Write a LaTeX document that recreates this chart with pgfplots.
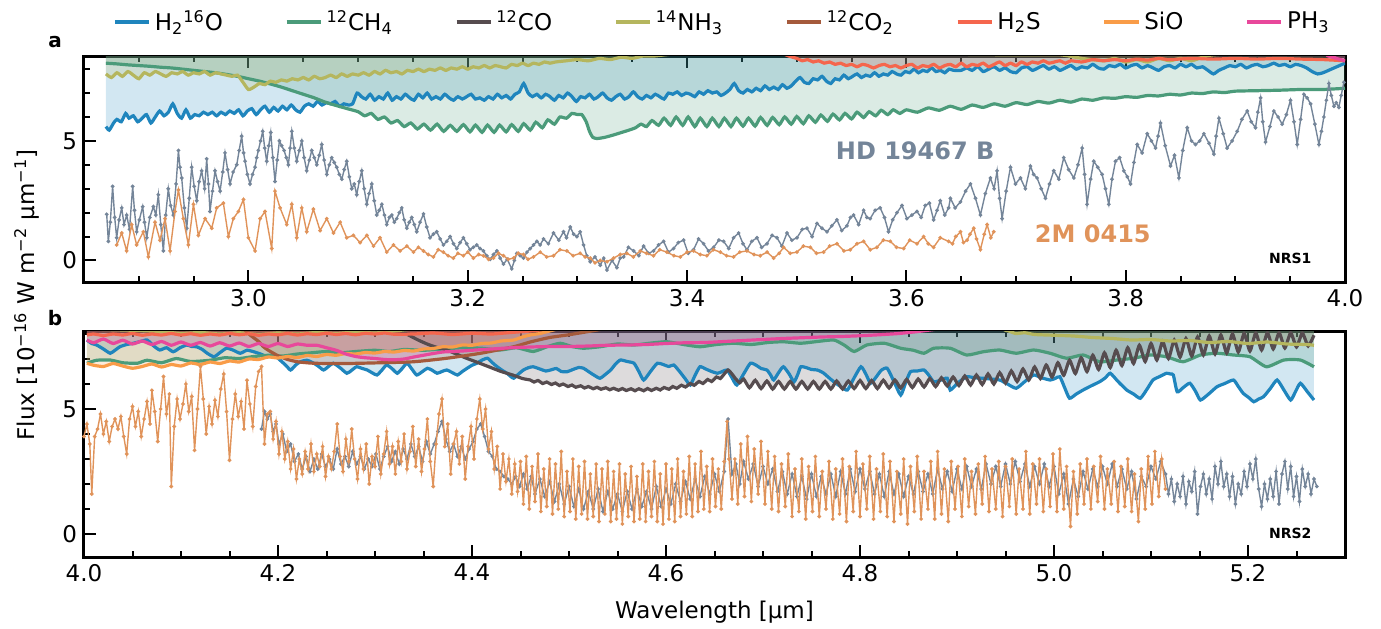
\documentclass[border=0pt]{standalone}
\usepackage{fontspec}
\setmainfont{DejaVu Sans}
\usepackage{pgfplots}
\usepackage{pgfplotstable}
\pgfplotsset{compat=1.18}
\usepgfplotslibrary{fillbetween}

\definecolor{cH2O}{HTML}{1F85BD}
\definecolor{cCH4}{HTML}{4B9B7A}
\definecolor{cCO}{HTML}{564C4F}
\definecolor{cNH3}{HTML}{B5B65E}
\definecolor{cCO2}{HTML}{A55A3C}
\definecolor{cH2S}{HTML}{F5664D}
\definecolor{cSiO}{HTML}{F99C48}
\definecolor{cPH3}{HTML}{E8489B}
\definecolor{cHD}{HTML}{748599}
\definecolor{cTM}{HTML}{E0935A}

% ---------------- panel a templates ----------------
\pgfplotstableread[row sep=\\]{x y\\
2.870 5.60\\ 2.873 5.45\\ 2.877 5.75\\ 2.880 5.90\\ 2.884 5.80\\ 2.888 6.15\\ 2.891 5.95\\ 2.895 6.05\\ 2.899 5.80\\ 2.903 5.95\\
2.907 6.10\\ 2.911 5.75\\ 2.915 6.00\\ 2.919 6.25\\ 2.923 6.05\\ 2.927 6.20\\ 2.931 6.55\\ 2.935 6.15\\ 2.939 5.95\\ 2.943 6.30\\
2.947 5.95\\ 2.951 6.10\\ 2.955 6.05\\ 2.959 6.20\\ 2.963 6.10\\ 2.967 6.20\\ 2.971 6.05\\ 2.975 6.20\\ 2.979 6.10\\ 2.983 6.25\\
2.987 6.15\\ 2.991 6.30\\ 2.995 6.05\\ 2.999 6.25\\ 3.003 6.35\\ 3.007 6.10\\ 3.011 6.30\\ 3.015 6.45\\ 3.019 6.20\\ 3.023 6.40\\
3.027 6.25\\ 3.031 6.45\\ 3.035 6.30\\ 3.039 6.50\\ 3.043 6.30\\ 3.047 6.20\\ 3.051 6.45\\ 3.055 6.55\\ 3.059 6.45\\ 3.063 6.65\\
3.067 6.50\\ 3.071 6.60\\ 3.075 6.55\\ 3.079 6.65\\ 3.083 6.45\\ 3.087 6.55\\ 3.091 6.50\\ 3.095 6.55\\ 3.099 7.00\\ 3.103 6.85\\
3.107 6.75\\ 3.111 6.95\\ 3.115 6.70\\ 3.119 6.85\\ 3.123 6.75\\ 3.127 7.00\\ 3.131 6.70\\ 3.135 6.85\\ 3.139 6.75\\ 3.143 6.95\\
3.147 6.80\\ 3.151 6.70\\ 3.155 6.95\\ 3.159 6.80\\ 3.163 7.00\\ 3.167 6.75\\ 3.171 6.85\\ 3.175 6.75\\ 3.179 6.95\\ 3.183 6.80\\
3.187 6.70\\ 3.191 6.85\\ 3.195 6.75\\ 3.199 6.85\\ 3.203 6.95\\ 3.207 6.75\\ 3.211 6.80\\ 3.215 6.70\\ 3.219 6.85\\ 3.223 6.75\\
3.227 6.95\\ 3.231 6.80\\ 3.235 6.90\\ 3.239 6.75\\ 3.243 6.95\\ 3.247 7.05\\ 3.251 7.40\\ 3.255 7.00\\ 3.259 6.85\\ 3.263 6.95\\
3.267 6.80\\ 3.271 6.95\\ 3.275 6.85\\ 3.279 6.70\\ 3.283 6.90\\ 3.287 6.80\\ 3.291 7.00\\ 3.295 6.85\\ 3.299 6.65\\ 3.303 6.85\\
3.307 6.80\\ 3.311 6.95\\ 3.315 6.75\\ 3.319 6.85\\ 3.323 7.00\\ 3.327 6.80\\ 3.331 6.70\\ 3.335 6.85\\ 3.339 6.95\\ 3.343 6.75\\
3.347 6.85\\ 3.351 7.05\\ 3.355 6.85\\ 3.359 6.75\\ 3.363 6.90\\ 3.367 6.80\\ 3.371 6.95\\ 3.375 6.85\\ 3.379 6.75\\ 3.383 7.00\\
3.387 6.95\\ 3.391 7.05\\ 3.395 6.90\\ 3.399 7.00\\ 3.403 6.95\\ 3.407 6.85\\ 3.411 7.05\\ 3.415 6.95\\ 3.419 7.10\\ 3.423 7.00\\
3.427 7.05\\ 3.431 6.90\\ 3.435 7.00\\ 3.439 7.15\\ 3.443 7.40\\ 3.447 7.10\\ 3.451 7.00\\ 3.455 7.15\\ 3.459 7.05\\ 3.463 7.20\\
3.467 7.10\\ 3.471 7.30\\ 3.475 7.15\\ 3.479 7.25\\ 3.483 7.15\\ 3.487 7.35\\ 3.491 7.20\\ 3.495 7.30\\ 3.499 7.50\\ 3.503 7.65\\
3.507 7.45\\ 3.511 7.40\\ 3.515 7.60\\ 3.519 7.55\\ 3.523 7.70\\ 3.527 7.50\\ 3.531 7.40\\ 3.535 7.60\\ 3.539 7.55\\ 3.543 7.75\\
3.547 7.60\\ 3.551 7.70\\ 3.555 7.80\\ 3.559 7.65\\ 3.563 7.75\\ 3.567 7.70\\ 3.571 7.85\\ 3.575 7.70\\ 3.579 7.80\\ 3.583 7.75\\
3.587 7.90\\ 3.591 7.80\\ 3.595 7.75\\ 3.599 7.90\\ 3.603 7.85\\ 3.607 8.00\\ 3.611 7.85\\ 3.615 7.95\\ 3.619 7.90\\ 3.623 8.05\\
3.627 7.90\\ 3.631 7.95\\ 3.635 7.85\\ 3.639 8.00\\ 3.643 7.95\\ 3.650 7.95\\ 3.655 8.05\\ 3.660 7.95\\ 3.665 8.10\\ 3.670 7.90\\
3.675 8.00\\ 3.680 8.10\\ 3.685 7.95\\ 3.690 8.05\\ 3.695 7.90\\ 3.700 7.85\\ 3.705 8.05\\ 3.710 8.10\\ 3.715 7.95\\ 3.720 8.05\\
3.725 8.15\\ 3.730 8.00\\ 3.735 8.10\\ 3.740 7.95\\ 3.745 8.05\\ 3.750 8.15\\ 3.755 8.00\\ 3.760 8.10\\ 3.765 8.05\\ 3.770 8.20\\
3.775 8.05\\ 3.780 8.00\\ 3.785 8.15\\ 3.790 8.10\\ 3.795 8.20\\ 3.800 8.05\\ 3.805 8.15\\ 3.810 8.20\\ 3.815 8.05\\ 3.820 8.15\\
3.825 8.05\\ 3.830 7.95\\ 3.835 8.10\\ 3.840 8.15\\ 3.845 8.05\\ 3.850 8.20\\ 3.855 8.10\\ 3.860 8.20\\ 3.865 8.05\\ 3.870 8.10\\
3.875 7.95\\ 3.880 7.80\\ 3.885 7.95\\ 3.890 8.05\\ 3.895 8.15\\ 3.900 8.10\\ 3.905 8.20\\ 3.910 8.05\\ 3.915 8.15\\ 3.920 8.20\\
3.925 8.10\\ 3.930 8.15\\ 3.935 8.25\\ 3.940 8.15\\ 3.945 8.20\\ 3.950 8.10\\ 3.955 8.20\\ 3.960 8.15\\ 3.965 8.05\\ 3.970 7.90\\
3.975 7.80\\ 3.980 7.85\\ 3.985 7.95\\ 3.990 8.05\\ 3.995 8.15\\ 4.000 8.25\\
}\hOa

\pgfplotstableread[row sep=\\]{x y\\
2.870 8.25\\ 2.880 8.22\\ 2.890 8.18\\ 2.900 8.15\\ 2.910 8.12\\ 2.920 8.08\\ 2.930 8.05\\ 2.940 8.00\\ 2.950 7.95\\ 2.960 7.90\\
2.970 7.85\\ 2.980 7.78\\ 2.990 7.70\\ 3.000 7.60\\ 3.010 7.50\\ 3.020 7.38\\ 3.030 7.25\\ 3.040 7.10\\ 3.050 6.95\\ 3.060 6.80\\
3.070 6.62\\ 3.080 6.48\\ 3.090 6.35\\ 3.100 6.22\\ 3.106 6.05\\ 3.112 6.15\\ 3.118 5.90\\ 3.124 6.00\\ 3.130 5.75\\ 3.136 5.85\\
3.142 5.60\\ 3.148 5.75\\ 3.154 5.50\\ 3.160 5.70\\ 3.166 5.45\\ 3.172 5.70\\ 3.178 5.40\\ 3.184 5.65\\ 3.190 5.40\\ 3.196 5.68\\
3.202 5.38\\ 3.207 5.66\\ 3.213 5.36\\ 3.218 5.66\\ 3.224 5.36\\ 3.229 5.66\\ 3.235 5.38\\ 3.240 5.68\\ 3.246 5.40\\ 3.251 5.72\\
3.257 5.45\\ 3.262 5.78\\ 3.268 5.55\\ 3.273 5.88\\ 3.279 5.70\\ 3.284 6.00\\ 3.290 5.95\\ 3.295 6.15\\ 3.300 6.10\\ 3.304 6.10\\
3.308 5.80\\ 3.311 5.40\\ 3.314 5.15\\ 3.318 5.10\\ 3.325 5.15\\ 3.333 5.25\\ 3.340 5.35\\ 3.347 5.45\\ 3.353 5.55\\ 3.358 5.70\\
3.363 5.60\\ 3.368 5.85\\ 3.374 5.65\\ 3.379 5.95\\ 3.385 5.65\\ 3.390 6.00\\ 3.396 5.65\\ 3.401 6.00\\ 3.407 5.60\\ 3.412 5.95\\
3.418 5.60\\ 3.423 5.95\\ 3.429 5.60\\ 3.434 5.95\\ 3.440 5.60\\ 3.445 5.95\\ 3.451 5.62\\ 3.456 5.95\\ 3.462 5.62\\ 3.467 5.98\\
3.473 5.65\\ 3.478 5.98\\ 3.484 5.68\\ 3.489 6.00\\ 3.495 5.70\\ 3.500 6.02\\ 3.506 5.72\\ 3.511 6.05\\ 3.517 5.78\\ 3.522 6.08\\
3.528 5.82\\ 3.533 6.12\\ 3.539 5.88\\ 3.544 6.15\\ 3.550 5.92\\ 3.555 6.20\\ 3.561 5.98\\ 3.566 6.22\\ 3.572 6.05\\ 3.577 6.28\\
3.583 6.10\\ 3.588 6.30\\ 3.594 6.15\\ 3.600 6.30\\ 3.610 6.20\\ 3.620 6.38\\ 3.630 6.28\\ 3.640 6.45\\ 3.650 6.32\\ 3.660 6.50\\
3.670 6.40\\ 3.680 6.55\\ 3.690 6.45\\ 3.700 6.60\\ 3.710 6.52\\ 3.720 6.65\\ 3.730 6.58\\ 3.740 6.70\\ 3.750 6.62\\ 3.760 6.75\\
3.770 6.70\\ 3.780 6.80\\ 3.790 6.78\\ 3.800 6.85\\ 3.810 6.82\\ 3.820 6.90\\ 3.830 6.88\\ 3.840 6.95\\ 3.850 6.92\\ 3.860 7.00\\
3.870 6.98\\ 3.880 7.05\\ 3.890 7.02\\ 3.900 7.08\\ 3.920 7.10\\ 3.940 7.12\\ 3.960 7.15\\ 3.980 7.15\\ 4.000 7.20\\
}\cHa

\pgfplotstableread[row sep=\\]{x y\\
2.870 7.80\\ 2.875 7.65\\ 2.880 7.85\\ 2.885 7.70\\ 2.890 7.90\\ 2.895 7.75\\ 2.900 7.60\\ 2.905 7.85\\ 2.910 7.75\\ 2.915 7.90\\
2.920 7.80\\ 2.925 7.70\\ 2.930 7.85\\ 2.935 7.80\\ 2.940 7.90\\ 2.945 7.75\\ 2.950 7.85\\ 2.955 7.80\\ 2.960 7.90\\ 2.965 7.75\\
2.970 7.85\\ 2.975 7.80\\ 2.980 7.75\\ 2.985 7.70\\ 2.990 7.75\\ 2.995 7.45\\ 3.000 7.15\\ 3.005 7.25\\ 3.010 7.40\\ 3.015 7.35\\
3.020 7.50\\ 3.025 7.45\\ 3.030 7.55\\ 3.035 7.50\\ 3.040 7.60\\ 3.045 7.55\\ 3.050 7.65\\ 3.055 7.55\\ 3.060 7.70\\ 3.065 7.60\\
3.070 7.65\\ 3.075 7.75\\ 3.080 7.65\\ 3.085 7.80\\ 3.090 7.70\\ 3.095 7.80\\ 3.100 7.75\\ 3.105 7.85\\ 3.110 7.75\\ 3.115 7.90\\
3.120 7.80\\ 3.125 7.95\\ 3.130 7.85\\ 3.135 7.90\\ 3.140 7.80\\ 3.145 7.95\\ 3.150 7.90\\ 3.155 8.00\\ 3.160 7.90\\ 3.165 8.00\\
3.170 7.95\\ 3.175 8.05\\ 3.180 7.95\\ 3.185 8.05\\ 3.190 8.00\\ 3.195 8.10\\ 3.200 8.00\\ 3.205 8.10\\ 3.210 8.05\\ 3.215 8.15\\
3.220 8.05\\ 3.225 8.15\\ 3.230 8.10\\ 3.235 8.05\\ 3.240 8.20\\ 3.245 8.15\\ 3.250 8.25\\ 3.255 8.15\\ 3.260 8.25\\ 3.265 8.20\\
3.270 8.30\\ 3.275 8.25\\ 3.280 8.30\\ 3.290 8.35\\ 3.300 8.40\\ 3.310 8.35\\ 3.320 8.45\\ 3.330 8.40\\ 3.340 8.50\\ 3.350 8.45\\
3.360 8.55\\ 3.370 8.55\\ 3.380 8.60\\ 3.400 8.70\\ 3.450 8.80\\ 3.500 8.75\\ 3.550 8.70\\ 3.600 8.65\\ 3.650 8.62\\ 3.700 8.60\\
3.740 8.60\\ 3.760 8.45\\ 3.780 8.35\\ 3.790 8.45\\ 3.800 8.30\\ 3.810 8.40\\ 3.820 8.30\\ 3.830 8.45\\ 3.840 8.35\\ 3.850 8.45\\
3.860 8.35\\ 3.870 8.50\\ 3.880 8.60\\ 3.920 8.70\\ 4.000 8.70\\
}\nHa

\pgfplotstableread[row sep=\\]{x y\\
2.870 9.50\\ 3.480 9.00\\ 3.490 8.60\\ 3.500 8.45\\ 3.505 8.35\\ 3.510 8.40\\ 3.515 8.30\\ 3.520 8.35\\ 3.525 8.25\\ 3.530 8.30\\
3.535 8.20\\ 3.540 8.25\\ 3.545 8.15\\ 3.550 8.20\\ 3.555 8.10\\ 3.560 8.20\\ 3.565 8.15\\ 3.570 8.05\\ 3.575 8.15\\ 3.580 8.20\\
3.585 8.10\\ 3.590 8.15\\ 3.595 8.05\\ 3.600 8.15\\ 3.605 8.20\\ 3.610 8.05\\ 3.615 8.15\\ 3.620 8.10\\ 3.625 8.20\\ 3.630 8.05\\
3.635 8.15\\ 3.640 8.20\\ 3.645 8.10\\ 3.650 8.25\\ 3.655 8.10\\ 3.660 8.20\\ 3.665 8.15\\ 3.670 8.25\\ 3.675 8.10\\ 3.680 8.20\\
3.685 8.30\\ 3.690 8.15\\ 3.695 8.25\\ 3.700 8.15\\ 3.705 8.30\\ 3.710 8.20\\ 3.715 8.30\\ 3.720 8.25\\ 3.725 8.35\\ 3.730 8.25\\
3.735 8.30\\ 3.740 8.35\\ 3.745 8.25\\ 3.750 8.35\\ 3.760 8.30\\ 3.770 8.40\\ 3.780 8.35\\ 3.790 8.40\\ 3.800 8.35\\ 3.810 8.42\\
3.820 8.38\\ 3.830 8.45\\ 3.840 8.40\\ 3.860 8.45\\ 3.880 8.42\\ 3.900 8.45\\ 3.920 8.42\\ 3.940 8.45\\ 3.960 8.42\\ 3.980 8.40\\
4.000 8.35\\
}\sHa

\pgfplotstableread[row sep=\\]{x y\\
2.870 9.50\\ 3.960 9.00\\ 3.985 8.55\\ 4.000 8.35\\
}\pHa

% ---------------- panel a spectra ----------------
\pgfplotstableread[row sep=\\]{x y\\
2.8707 1.93\\ 2.8722 0.80\\ 2.8740 1.60\\ 2.8761 3.10\\ 2.8780 1.80\\ 2.8798 0.95\\ 2.8820 1.70\\ 2.8844 2.20\\ 2.8865 1.50\\ 2.8889 1.90\\
2.8915 1.30\\ 2.8944 3.10\\ 2.8960 2.10\\ 2.8980 1.20\\ 2.9005 1.70\\ 2.9035 2.25\\ 2.9052 1.60\\ 2.9072 0.95\\ 2.9100 1.80\\ 2.9133 2.25\\
2.9155 1.90\\ 2.9178 2.75\\ 2.9200 1.50\\ 2.9224 0.40\\ 2.9245 1.90\\ 2.9269 3.00\\ 2.9290 2.30\\ 2.9315 1.90\\ 2.9340 3.20\\ 2.9361 4.60\\
2.9375 3.90\\ 2.9391 3.45\\ 2.9415 2.20\\ 2.9437 1.35\\ 2.9460 2.60\\ 2.9482 3.90\\ 2.9505 3.10\\ 2.9528 2.50\\ 2.9550 3.30\\ 2.9573 3.75\\
2.9600 3.00\\ 2.9619 4.25\\ 2.9635 3.20\\ 2.9649 2.05\\ 2.9672 2.90\\ 2.9695 3.75\\ 2.9718 3.30\\ 2.9741 2.90\\ 2.9765 3.70\\ 2.9786 4.50\\
2.9810 3.80\\ 2.9832 3.20\\ 2.9860 3.70\\ 2.9893 4.00\\ 2.9915 4.60\\ 2.9938 5.20\\ 2.9955 4.50\\ 2.9969 4.15\\ 2.9990 3.60\\ 3.0014 3.20\\
3.0037 3.60\\ 3.0060 3.90\\ 3.0075 4.30\\ 3.0090 4.60\\ 3.0110 5.00\\ 3.0130 5.40\\ 3.0148 4.70\\ 3.0166 4.15\\ 3.0185 4.80\\ 3.0203 5.35\\
3.0222 4.30\\ 3.0242 3.30\\ 3.0262 4.20\\ 3.0282 5.00\\ 3.0303 4.80\\ 3.0325 4.60\\ 3.0345 4.30\\ 3.0364 4.00\\ 3.0380 4.70\\ 3.0395 5.40\\
3.0418 4.70\\ 3.0440 4.15\\ 3.0463 4.60\\ 3.0486 5.00\\ 3.0508 4.30\\ 3.0531 3.75\\ 3.0555 4.20\\ 3.0577 4.60\\ 3.0600 4.30\\ 3.0623 4.00\\
3.0645 4.40\\ 3.0668 4.85\\ 3.0690 4.20\\ 3.0714 3.60\\ 3.0737 4.00\\ 3.0759 4.30\\ 3.0782 4.10\\ 3.0805 3.90\\ 3.0828 3.60\\ 3.0851 3.40\\
3.0873 3.80\\ 3.0896 4.15\\ 3.0920 3.50\\ 3.0942 3.00\\ 3.0965 3.20\\ 3.0987 2.75\\ 3.1010 3.30\\ 3.1033 3.75\\ 3.1055 3.00\\ 3.1079 2.35\\
3.1100 2.80\\ 3.1124 3.20\\ 3.1147 2.50\\ 3.1170 1.90\\ 3.1193 2.10\\ 3.1216 2.35\\ 3.1240 1.90\\ 3.1261 1.50\\ 3.1285 1.80\\ 3.1307 1.90\\
3.1330 1.60\\ 3.1352 1.75\\ 3.1375 2.00\\ 3.1398 2.20\\ 3.1420 1.70\\ 3.1444 1.35\\ 3.1466 1.60\\ 3.1489 1.80\\ 3.1512 1.50\\ 3.1535 1.20\\
3.1565 1.60\\ 3.1596 1.95\\ 3.1626 1.40\\ 3.1656 0.95\\ 3.1686 1.10\\ 3.1717 1.20\\ 3.1748 0.90\\ 3.1778 0.65\\ 3.1808 0.80\\ 3.1839 1.00\\
3.1870 0.70\\ 3.1900 0.50\\ 3.1930 0.75\\ 3.1960 0.95\\ 3.1990 0.70\\ 3.2021 0.45\\ 3.2050 0.55\\ 3.2082 0.65\\ 3.2112 0.50\\ 3.2143 0.40\\
3.2173 0.20\\ 3.2204 0.05\\ 3.2235 0.25\\ 3.2265 0.40\\ 3.2295 0.10\\ 3.2325 -0.15\\ 3.2360 0.05\\ 3.2401 -0.35\\ 3.2425 0.00\\ 3.2447 0.30\\
3.2478 0.20\\ 3.2508 0.10\\ 3.2540 0.35\\ 3.2569 0.50\\ 3.2600 0.65\\ 3.2630 0.80\\ 3.2660 0.65\\ 3.2691 0.90\\ 3.2735 0.70\\ 3.2782 1.15\\
3.2830 0.85\\ 3.2873 1.20\\ 3.2900 0.95\\ 3.2934 1.40\\ 3.2965 1.10\\ 3.2995 1.00\\ 3.3025 1.20\\ 3.3056 0.65\\ 3.3085 0.20\\ 3.3117 -0.05\\
3.3160 0.15\\ 3.3208 -0.20\\ 3.3240 0.10\\ 3.3269 -0.40\\ 3.3315 0.00\\ 3.3360 -0.30\\ 3.3390 0.10\\ 3.3421 0.15\\ 3.3465 0.55\\ 3.3512 0.40\\
3.3560 0.20\\ 3.3603 0.60\\ 3.3650 0.30\\ 3.3694 0.40\\ 3.3740 0.65\\ 3.3786 0.80\\ 3.3830 0.35\\ 3.3877 0.50\\ 3.3920 0.75\\ 3.3968 0.85\\
3.4010 0.30\\ 3.4059 0.45\\ 3.4105 0.90\\ 3.4151 0.70\\ 3.4195 0.40\\ 3.4242 0.55\\ 3.4290 0.85\\ 3.4333 0.80\\ 3.4380 0.50\\ 3.4424 0.95\\
3.4470 1.15\\ 3.4510 0.70\\ 3.4546 0.45\\ 3.4590 0.80\\ 3.4637 0.95\\ 3.4680 0.55\\ 3.4728 0.70\\ 3.4775 1.05\\ 3.4820 0.95\\ 3.4865 0.60\\
3.4911 1.15\\ 3.4955 0.85\\ 3.5002 0.95\\ 3.5050 1.30\\ 3.5093 1.35\\ 3.5140 1.00\\ 3.5184 1.55\\ 3.5230 1.35\\ 3.5276 1.20\\ 3.5320 1.45\\
3.5367 1.70\\ 3.5410 1.25\\ 3.5458 1.45\\ 3.5490 1.80\\ 3.5518 1.90\\ 3.5565 1.50\\ 3.5610 2.10\\ 3.5640 1.80\\ 3.5670 1.75\\ 3.5715 2.10\\
3.5761 2.20\\ 3.5800 1.80\\ 3.5837 1.20\\ 3.5875 1.70\\ 3.5914 2.00\\ 3.5960 2.30\\ 3.6005 1.75\\ 3.6050 1.90\\ 3.6096 2.05\\ 3.6135 1.80\\
3.6172 2.30\\ 3.6210 2.40\\ 3.6248 1.70\\ 3.6280 2.10\\ 3.6309 2.50\\ 3.6350 1.90\\ 3.6385 2.20\\ 3.6401 2.60\\ 3.6445 2.20\\ 3.6493 2.45\\
3.6540 2.90\\ 3.6584 3.20\\ 3.6630 2.60\\ 3.6675 1.90\\ 3.6720 2.80\\ 3.6766 3.45\\ 3.6800 3.00\\ 3.6827 3.75\\ 3.6850 2.60\\ 3.6873 1.75\\
3.6910 2.90\\ 3.6949 3.90\\ 3.6995 3.20\\ 3.7040 3.45\\ 3.7085 3.00\\ 3.7131 3.95\\ 3.7160 3.60\\ 3.7192 3.45\\ 3.7230 3.00\\ 3.7268 2.60\\
3.7305 3.20\\ 3.7344 3.75\\ 3.7390 3.40\\ 3.7435 4.30\\ 3.7480 3.80\\ 3.7527 3.45\\ 3.7565 4.00\\ 3.7603 4.70\\ 3.7625 3.60\\ 3.7648 2.35\\
3.7680 3.40\\ 3.7709 4.15\\ 3.7745 3.90\\ 3.7785 3.60\\ 3.7815 3.00\\ 3.7846 2.35\\ 3.7875 3.40\\ 3.7907 4.15\\ 3.7945 4.30\\ 3.7983 3.75\\
3.8015 3.50\\ 3.8044 3.20\\ 3.8075 4.10\\ 3.8105 4.85\\ 3.8150 4.50\\ 3.8196 5.30\\ 3.8235 5.00\\ 3.8272 4.70\\ 3.8295 5.20\\ 3.8317 5.75\\
3.8360 4.80\\ 3.8409 3.95\\ 3.8445 4.40\\ 3.8485 3.45\\ 3.8520 4.60\\ 3.8561 5.55\\ 3.8600 5.00\\ 3.8637 4.85\\ 3.8675 5.00\\ 3.8713 5.30\\
3.8760 4.90\\ 3.8804 4.45\\ 3.8825 5.20\\ 3.8850 5.95\\ 3.8890 5.30\\ 3.8925 4.70\\ 3.8970 5.00\\ 3.9017 5.40\\ 3.9060 5.90\\ 3.9108 6.25\\
3.9145 5.80\\ 3.9184 5.55\\ 3.9205 6.20\\ 3.9230 6.80\\ 3.9250 5.80\\ 3.9275 4.95\\ 3.9315 5.60\\ 3.9351 6.25\\ 3.9390 6.00\\ 3.9427 5.70\\
3.9465 6.10\\ 3.9503 6.70\\ 3.9535 5.80\\ 3.9564 4.85\\ 3.9595 5.90\\ 3.9625 6.95\\ 3.9655 6.80\\ 3.9686 6.55\\ 3.9725 5.70\\ 3.9762 4.85\\
3.9785 5.40\\ 3.9807 6.00\\ 3.9830 6.70\\ 3.9853 7.40\\ 3.9875 6.90\\ 3.9899 6.45\\ 3.9920 6.60\\ 3.9944 6.40\\ 3.9965 6.90\\ 3.9990 7.45\\
}\hdA

\pgfplotstableread[row sep=\\]{x y\\
2.8798 0.65\\ 2.8844 1.15\\ 2.8889 0.40\\ 2.8935 1.50\\ 2.8980 0.65\\ 2.9041 1.20\\ 2.9087 0.15\\ 2.9148 1.60\\ 2.9193 0.85\\ 2.9239 1.75\\
2.9285 0.40\\ 2.9330 2.05\\ 2.9361 2.95\\ 2.9406 1.75\\ 2.9452 0.65\\ 2.9498 2.35\\ 2.9543 1.05\\ 2.9604 1.75\\ 2.9665 1.35\\ 2.9710 2.20\\
2.9771 2.40\\ 2.9817 1.00\\ 2.9862 1.75\\ 2.9908 2.05\\ 2.9954 2.55\\ 2.9999 0.95\\ 3.0060 0.40\\ 3.0106 1.75\\ 3.0151 2.05\\ 3.0212 0.50\\
3.0242 2.90\\ 3.0288 2.20\\ 3.0349 1.50\\ 3.0395 2.35\\ 3.0440 0.95\\ 3.0486 2.20\\ 3.0531 1.20\\ 3.0592 2.15\\ 3.0653 1.25\\ 3.0714 1.75\\
3.0775 1.15\\ 3.0836 1.60\\ 3.0896 0.95\\ 3.0957 1.05\\ 3.1018 0.75\\ 3.1079 1.05\\ 3.1140 0.60\\ 3.1200 0.95\\ 3.1261 0.35\\ 3.1322 0.65\\
3.1383 0.40\\ 3.1444 0.60\\ 3.1505 0.35\\ 3.1550 0.55\\ 3.1596 0.40\\ 3.1640 0.25\\ 3.1687 0.15\\ 3.1730 0.45\\ 3.1778 0.35\\ 3.1820 0.20\\
3.1869 0.10\\ 3.1910 0.30\\ 3.1960 0.20\\ 3.2000 0.35\\ 3.2051 0.10\\ 3.2100 0.25\\ 3.2143 0.20\\ 3.2190 0.05\\ 3.2234 0.10\\ 3.2280 0.30\\
3.2325 0.20\\ 3.2370 0.05\\ 3.2417 0.10\\ 3.2460 0.30\\ 3.2508 0.25\\ 3.2550 0.05\\ 3.2599 0.15\\ 3.2661 0.35\\ 3.2720 0.15\\ 3.2782 0.20\\
3.2840 0.45\\ 3.2904 0.40\\ 3.2960 0.20\\ 3.3025 0.30\\ 3.3070 0.15\\ 3.3117 0.10\\ 3.3160 -0.10\\ 3.3208 0.00\\ 3.3270 -0.05\\ 3.3330 0.10\\
3.3390 0.25\\ 3.3451 0.30\\ 3.3510 0.15\\ 3.3573 0.40\\ 3.3630 0.30\\ 3.3694 0.20\\ 3.3750 0.45\\ 3.3816 0.35\\ 3.3880 0.20\\ 3.3938 0.15\\
3.4000 0.35\\ 3.4059 0.40\\ 3.4120 0.25\\ 3.4181 0.20\\ 3.4240 0.45\\ 3.4303 0.35\\ 3.4360 0.20\\ 3.4424 0.15\\ 3.4480 0.35\\ 3.4546 0.40\\
3.4610 0.25\\ 3.4667 0.20\\ 3.4730 0.35\\ 3.4789 0.10\\ 3.4840 0.30\\ 3.4880 0.55\\ 3.4940 0.30\\ 3.5002 0.35\\ 3.5060 0.60\\ 3.5124 0.55\\
3.5180 0.30\\ 3.5245 0.35\\ 3.5300 0.60\\ 3.5367 0.70\\ 3.5430 0.40\\ 3.5488 0.45\\ 3.5550 0.70\\ 3.5610 0.80\\ 3.5670 0.45\\ 3.5731 0.55\\
3.5790 0.85\\ 3.5853 0.80\\ 3.5910 0.55\\ 3.5975 0.50\\ 3.6030 0.85\\ 3.6096 0.70\\ 3.6157 1.00\\ 3.6200 0.70\\ 3.6248 0.55\\ 3.6309 0.95\\
3.6385 0.80\\ 3.6420 0.70\\ 3.6450 1.00\\ 3.6493 1.20\\ 3.6520 0.75\\ 3.6554 0.85\\ 3.6580 1.10\\ 3.6614 1.35\\ 3.6640 0.90\\ 3.6675 0.45\\
3.6710 1.10\\ 3.6736 1.50\\ 3.6770 0.95\\ 3.6797 1.20\\
}\tmA

% ---------------- panel b templates ----------------
\pgfplotstableread[row sep=\\]{x y\\
4.003 7.76\\ 4.008 7.62\\ 4.013 7.56\\ 4.020 7.40\\ 4.027 7.23\\ 4.032 7.35\\ 4.037 7.49\\ 4.044 7.58\\ 4.051 7.63\\ 4.058 7.70\\
4.065 7.76\\ 4.071 7.55\\ 4.078 7.36\\ 4.085 7.45\\ 4.092 7.29\\ 4.099 7.45\\ 4.106 7.56\\ 4.111 7.50\\ 4.116 7.49\\ 4.122 7.38\\
4.127 7.23\\ 4.134 7.09\\ 4.140 7.25\\ 4.147 7.43\\ 4.154 7.35\\ 4.161 7.23\\ 4.168 7.35\\ 4.175 7.29\\ 4.182 7.20\\ 4.189 7.09\\
4.196 7.15\\ 4.202 6.96\\ 4.208 6.75\\ 4.213 6.56\\ 4.218 6.75\\ 4.223 6.89\\ 4.230 6.95\\ 4.237 6.83\\ 4.242 6.70\\ 4.247 6.56\\
4.252 6.70\\ 4.257 6.83\\ 4.264 6.65\\ 4.271 6.43\\ 4.276 6.55\\ 4.281 6.69\\ 4.287 6.62\\ 4.292 6.56\\ 4.297 6.45\\ 4.302 6.36\\
4.307 6.55\\ 4.312 6.76\\ 4.318 6.60\\ 4.323 6.43\\ 4.328 6.62\\ 4.333 6.83\\ 4.338 6.60\\ 4.343 6.36\\ 4.349 6.50\\ 4.354 6.63\\
4.359 6.55\\ 4.364 6.43\\ 4.369 6.50\\ 4.374 6.56\\ 4.380 6.45\\ 4.385 6.36\\ 4.390 6.50\\ 4.395 6.63\\ 4.400 6.75\\ 4.405 6.83\\
4.410 6.95\\ 4.416 7.03\\ 4.421 6.85\\ 4.426 6.69\\ 4.431 6.55\\ 4.436 6.43\\ 4.440 6.30\\ 4.443 6.23\\ 4.448 6.40\\ 4.453 6.56\\
4.458 6.65\\ 4.463 6.69\\ 4.470 6.60\\ 4.476 6.52\\ 4.481 6.56\\ 4.487 6.62\\ 4.492 6.50\\ 4.498 6.49\\ 4.504 6.58\\ 4.510 6.66\\
4.515 6.63\\ 4.520 6.50\\ 4.526 6.35\\ 4.532 6.23\\ 4.538 6.40\\ 4.543 6.56\\ 4.548 6.80\\ 4.553 6.96\\ 4.560 6.90\\ 4.567 6.83\\
4.572 6.50\\ 4.577 6.16\\ 4.584 6.50\\ 4.591 6.83\\ 4.597 6.78\\ 4.603 6.70\\ 4.608 6.76\\ 4.614 6.50\\ 4.620 6.20\\ 4.625 5.96\\
4.630 6.35\\ 4.635 6.69\\ 4.641 6.60\\ 4.647 6.50\\ 4.653 6.43\\ 4.658 6.50\\ 4.663 6.56\\ 4.668 6.25\\ 4.673 5.96\\ 4.680 6.40\\
4.687 6.83\\ 4.693 6.75\\ 4.698 6.62\\ 4.704 6.56\\ 4.708 6.35\\ 4.711 6.16\\ 4.716 6.45\\ 4.721 6.69\\ 4.727 6.40\\ 4.732 6.09\\
4.736 6.40\\ 4.739 6.69\\ 4.745 6.65\\ 4.750 6.58\\ 4.756 6.56\\ 4.762 6.45\\ 4.768 6.25\\ 4.773 6.09\\ 4.780 5.90\\ 4.787 5.76\\
4.794 6.25\\ 4.801 6.69\\ 4.806 6.40\\ 4.811 6.03\\ 4.817 6.30\\ 4.822 6.55\\ 4.828 6.63\\ 4.835 6.10\\ 4.842 5.56\\ 4.847 6.05\\
4.852 6.49\\ 4.859 6.52\\ 4.866 6.56\\ 4.871 6.35\\ 4.876 6.09\\ 4.883 6.15\\ 4.890 6.23\\ 4.893 5.76\\ 4.901 6.05\\ 4.910 6.29\\
4.918 6.25\\ 4.927 6.23\\ 4.935 6.20\\ 4.944 6.16\\ 4.952 6.00\\ 4.961 5.83\\ 4.970 6.10\\ 4.979 6.36\\ 4.987 6.25\\ 4.996 6.16\\
5.001 6.22\\ 5.006 6.29\\ 5.011 5.85\\ 5.016 5.43\\ 5.023 5.60\\ 5.030 5.76\\ 5.038 5.92\\ 5.047 6.09\\ 5.053 6.25\\ 5.058 6.43\\
5.066 6.10\\ 5.075 5.76\\ 5.082 5.60\\ 5.089 5.43\\ 5.096 5.80\\ 5.102 6.16\\ 5.109 6.30\\ 5.116 6.43\\ 5.120 6.40\\ 5.123 6.36\\
5.127 5.69\\ 5.133 5.85\\ 5.140 6.03\\ 5.146 5.70\\ 5.151 5.36\\ 5.160 5.62\\ 5.168 5.89\\ 5.176 6.02\\ 5.185 6.16\\ 5.190 5.90\\
5.195 5.63\\ 5.201 5.45\\ 5.206 5.29\\ 5.211 5.40\\ 5.216 5.49\\ 5.223 5.82\\ 5.230 6.16\\ 5.237 5.76\\ 5.244 5.36\\ 5.249 5.70\\
5.254 6.03\\ 5.261 5.70\\ 5.268 5.36\\
}\hOb

\pgfplotstableread[row sep=\\]{x y\\
4.003 6.83\\ 4.013 6.95\\ 4.027 6.96\\ 4.040 6.85\\ 4.055 6.83\\ 4.065 6.95\\ 4.080 6.85\\ 4.095 7.02\\ 4.110 6.90\\ 4.130 6.95\\
4.145 7.05\\ 4.160 7.02\\ 4.175 7.10\\ 4.190 7.15\\ 4.205 7.12\\ 4.220 7.20\\ 4.235 7.25\\ 4.250 7.30\\ 4.265 7.25\\ 4.280 7.30\\
4.300 7.35\\ 4.315 7.30\\ 4.330 7.38\\ 4.350 7.35\\ 4.370 7.40\\ 4.390 7.45\\ 4.410 7.43\\ 4.429 7.36\\ 4.446 7.45\\ 4.463 7.30\\
4.478 7.50\\ 4.491 7.63\\ 4.503 7.50\\ 4.515 7.43\\ 4.532 7.49\\ 4.550 7.60\\ 4.567 7.56\\ 4.585 7.64\\ 4.601 7.69\\ 4.618 7.58\\
4.635 7.49\\ 4.652 7.58\\ 4.670 7.63\\ 4.688 7.58\\ 4.705 7.66\\ 4.721 7.69\\ 4.739 7.63\\ 4.756 7.70\\ 4.773 7.76\\ 4.784 7.55\\
4.794 7.30\\ 4.807 7.56\\ 4.825 7.63\\ 4.842 7.43\\ 4.855 7.35\\ 4.866 7.23\\ 4.876 7.43\\ 4.893 7.43\\ 4.910 7.16\\ 4.927 7.29\\
4.944 7.36\\ 4.961 7.23\\ 4.979 7.36\\ 4.996 7.23\\ 5.013 7.03\\ 5.030 7.16\\ 5.047 6.89\\ 5.065 6.96\\ 5.082 7.03\\ 5.099 7.16\\
5.116 7.09\\ 5.133 6.89\\ 5.151 7.16\\ 5.168 7.23\\ 5.185 7.16\\ 5.202 7.09\\ 5.219 6.69\\ 5.237 6.96\\ 5.254 6.96\\ 5.268 6.69\\
}\cHb

\pgfplotstableread[row sep=\\]{x y\\
4.003 12.0\\ 4.300 9.00\\ 4.320 8.40\\ 4.326 8.15\\ 4.335 7.95\\ 4.345 7.75\\ 4.355 7.58\\ 4.365 7.45\\ 4.374 7.36\\ 4.385 7.18\\
4.395 7.02\\ 4.408 6.83\\ 4.420 6.65\\ 4.430 6.50\\ 4.442 6.36\\ 4.452 6.22\\ 4.460 6.16\\ 4.464 6.08\\ 4.468 6.14\\ 4.473 6.02\\
4.477 6.08\\ 4.482 5.98\\ 4.486 6.04\\ 4.490 5.94\\ 4.494 6.00\\ 4.499 5.90\\ 4.503 5.96\\ 4.507 5.87\\ 4.512 5.93\\ 4.516 5.84\\
4.520 5.90\\ 4.525 5.81\\ 4.529 5.87\\ 4.533 5.79\\ 4.538 5.85\\ 4.542 5.77\\ 4.546 5.83\\ 4.551 5.75\\ 4.555 5.82\\ 4.559 5.74\\
4.564 5.81\\ 4.568 5.73\\ 4.572 5.81\\ 4.577 5.73\\ 4.581 5.82\\ 4.585 5.74\\ 4.590 5.83\\ 4.594 5.76\\ 4.598 5.86\\ 4.603 5.79\\
4.607 5.90\\ 4.611 5.83\\ 4.616 5.95\\ 4.620 5.88\\ 4.625 6.02\\ 4.629 5.95\\ 4.634 6.10\\ 4.638 6.02\\ 4.643 6.18\\ 4.647 6.10\\
4.652 6.28\\ 4.656 6.22\\ 4.660 6.40\\ 4.664 6.56\\ 4.668 6.40\\ 4.672 6.20\\ 4.676 6.05\\ 4.680 6.20\\ 4.686 5.85\\ 4.692 6.15\\
4.698 5.82\\ 4.704 6.12\\ 4.710 5.80\\ 4.716 6.10\\ 4.722 5.80\\ 4.728 6.10\\ 4.734 5.80\\ 4.740 6.10\\ 4.746 5.80\\ 4.752 6.10\\
4.758 5.80\\ 4.764 6.10\\ 4.770 5.80\\ 4.776 6.12\\ 4.782 5.80\\ 4.788 6.12\\ 4.794 5.82\\ 4.800 6.14\\ 4.806 5.82\\ 4.812 6.14\\
4.818 5.82\\ 4.824 6.15\\ 4.830 5.84\\ 4.836 6.16\\ 4.842 5.84\\ 4.848 6.18\\ 4.854 5.86\\ 4.860 6.20\\ 4.866 5.88\\ 4.872 6.22\\
4.878 5.90\\ 4.884 6.25\\ 4.890 5.92\\ 4.896 6.28\\ 4.902 5.94\\ 4.908 6.32\\ 4.914 5.96\\ 4.920 6.36\\ 4.926 5.98\\ 4.932 6.40\\
4.938 6.00\\ 4.944 6.45\\ 4.950 6.04\\ 4.956 6.52\\ 4.962 6.10\\ 4.968 6.60\\ 4.974 6.16\\ 4.980 6.68\\ 4.986 6.22\\ 4.992 6.76\\
4.998 6.28\\ 5.004 6.85\\ 5.010 6.35\\ 5.016 6.95\\ 5.022 6.42\\ 5.028 7.05\\ 5.034 6.50\\ 5.040 7.15\\ 5.046 6.58\\ 5.052 7.25\\
5.058 6.66\\ 5.064 7.35\\ 5.070 6.74\\ 5.076 7.45\\ 5.082 6.82\\ 5.088 7.55\\ 5.094 6.90\\ 5.100 7.62\\ 5.106 6.96\\ 5.112 7.70\\
5.118 7.02\\ 5.124 7.76\\ 5.130 7.08\\ 5.136 7.82\\ 5.142 7.12\\ 5.148 7.88\\ 5.154 7.16\\ 5.160 7.92\\ 5.166 7.20\\ 5.172 7.96\\
5.178 7.24\\ 5.184 8.00\\ 5.190 7.28\\ 5.196 8.02\\ 5.202 7.32\\ 5.208 8.04\\ 5.214 7.36\\ 5.220 8.05\\ 5.226 7.40\\ 5.232 8.05\\
5.238 7.44\\ 5.244 8.05\\ 5.250 7.48\\ 5.256 8.04\\ 5.262 7.52\\ 5.268 7.95\\
}\cOb

\pgfplotstableread[row sep=\\]{x y\\
4.003 8.20\\ 4.050 8.15\\ 4.080 8.10\\ 4.100 8.02\\ 4.120 8.06\\ 4.140 8.00\\ 4.160 8.05\\ 4.180 7.98\\ 4.200 8.04\\ 4.220 8.00\\
4.240 8.06\\ 4.260 8.02\\ 4.280 8.08\\ 4.300 8.04\\ 4.320 8.12\\ 4.350 8.25\\ 4.400 8.40\\ 4.900 8.40\\ 4.950 8.15\\ 4.960 8.02\\
4.970 8.05\\ 4.980 7.98\\ 5.000 7.95\\ 5.020 7.92\\ 5.040 7.86\\ 5.060 7.82\\ 5.080 7.76\\ 5.100 7.78\\ 5.120 7.72\\ 5.140 7.74\\
5.160 7.66\\ 5.180 7.70\\ 5.200 7.62\\ 5.220 7.68\\ 5.240 7.60\\ 5.260 7.58\\ 5.268 7.55\\
}\nHb

\pgfplotstableread[row sep=\\]{x y\\
4.003 12.0\\ 4.150 9.00\\ 4.160 8.40\\ 4.170 8.00\\ 4.180 7.70\\ 4.185 7.49\\ 4.190 7.35\\ 4.200 7.13\\ 4.210 6.98\\ 4.220 6.89\\
4.237 6.83\\ 4.270 6.82\\ 4.306 6.85\\ 4.340 6.89\\ 4.374 7.03\\ 4.409 7.23\\ 4.443 7.49\\ 4.460 7.68\\ 4.480 7.86\\ 4.500 7.97\\
4.520 8.10\\ 4.550 8.30\\ 4.600 8.60\\ 5.268 9.50\\
}\cTb

\pgfplotstableread[row sep=\\]{x y\\
4.003 7.96\\ 4.010 8.00\\ 4.020 7.94\\ 4.030 8.00\\ 4.040 7.96\\ 4.050 8.02\\ 4.060 7.95\\ 4.070 8.00\\ 4.080 7.96\\ 4.090 8.02\\
4.100 7.96\\ 4.110 8.01\\ 4.120 7.95\\ 4.130 8.00\\ 4.140 7.96\\ 4.150 8.02\\ 4.160 7.97\\ 4.170 8.01\\ 4.180 7.95\\ 4.190 8.00\\
4.200 7.97\\ 4.210 8.02\\ 4.220 7.96\\ 4.230 8.01\\ 4.240 7.98\\ 4.250 8.03\\ 4.260 7.98\\ 4.270 8.02\\ 4.280 7.97\\ 4.290 8.03\\
4.300 8.00\\ 4.310 8.04\\ 4.320 7.99\\ 4.340 8.00\\ 4.360 8.04\\ 4.380 7.98\\ 4.400 8.03\\ 4.420 8.00\\ 4.440 8.06\\ 4.460 8.12\\
4.480 8.20\\ 4.500 8.30\\ 5.268 8.60\\
}\sHb

\pgfplotstableread[row sep=\\]{x y\\
4.003 6.83\\ 4.010 6.75\\ 4.020 6.70\\ 4.030 6.82\\ 4.040 6.72\\ 4.050 6.63\\ 4.060 6.70\\ 4.070 6.80\\ 4.080 6.68\\ 4.090 6.78\\
4.100 6.72\\ 4.110 6.84\\ 4.120 6.78\\ 4.130 6.88\\ 4.140 6.82\\ 4.150 6.92\\ 4.160 6.88\\ 4.170 7.00\\ 4.180 6.98\\ 4.190 7.08\\
4.200 7.04\\ 4.210 7.10\\ 4.220 7.06\\ 4.230 7.14\\ 4.240 7.10\\ 4.250 7.18\\ 4.260 7.15\\ 4.270 7.22\\ 4.280 7.20\\ 4.290 7.26\\
4.300 7.24\\ 4.310 7.30\\ 4.320 7.28\\ 4.330 7.34\\ 4.340 7.32\\ 4.350 7.40\\ 4.360 7.42\\ 4.370 7.49\\ 4.380 7.48\\ 4.390 7.56\\
4.400 7.55\\ 4.410 7.62\\ 4.420 7.64\\ 4.430 7.72\\ 4.443 7.76\\ 4.452 7.88\\ 4.460 7.96\\ 4.470 8.02\\ 4.480 8.12\\ 4.500 8.30\\
4.550 8.50\\ 4.700 8.60\\ 5.268 8.60\\
}\sOb

\pgfplotstableread[row sep=\\]{x y\\
4.003 7.76\\ 4.010 7.65\\ 4.020 7.80\\ 4.030 7.62\\ 4.040 7.75\\ 4.050 7.60\\ 4.060 7.72\\ 4.070 7.58\\ 4.080 7.70\\ 4.090 7.55\\
4.100 7.68\\ 4.110 7.55\\ 4.120 7.66\\ 4.130 7.52\\ 4.140 7.65\\ 4.150 7.52\\ 4.160 7.64\\ 4.170 7.50\\ 4.180 7.62\\ 4.190 7.50\\
4.200 7.62\\ 4.210 7.50\\ 4.220 7.60\\ 4.230 7.55\\ 4.240 7.55\\ 4.250 7.45\\ 4.260 7.35\\ 4.270 7.20\\ 4.280 7.10\\ 4.290 7.05\\
4.300 7.02\\ 4.310 6.98\\ 4.320 6.97\\ 4.330 7.00\\ 4.340 7.08\\ 4.350 7.15\\ 4.360 7.22\\ 4.370 7.28\\ 4.380 7.30\\ 4.390 7.32\\
4.400 7.35\\ 4.420 7.40\\ 4.440 7.45\\ 4.460 7.48\\ 4.480 7.50\\ 4.500 7.50\\ 4.520 7.52\\ 4.540 7.55\\ 4.560 7.56\\ 4.580 7.58\\
4.600 7.62\\ 4.620 7.65\\ 4.640 7.66\\ 4.660 7.70\\ 4.680 7.74\\ 4.700 7.78\\ 4.720 7.82\\ 4.740 7.85\\ 4.760 7.88\\ 4.780 7.90\\
4.800 7.93\\ 4.820 7.97\\ 4.840 8.02\\ 4.860 8.10\\ 4.880 8.20\\ 4.900 8.30\\ 5.268 8.60\\
}\pHb

% ---------------- panel b spectra ----------------
\pgfplotstableread[row sep=\\]{x y\\
4.183 4.2\\ 4.186 4.9\\ 4.189 4.6\\ 4.192 4.8\\ 4.195 4.1\\ 4.198 4.4\\ 4.201 3.6\\ 4.205 4.0\\ 4.209 3.3\\ 4.213 3.6\\
4.217 2.9\\ 4.221 3.2\\ 4.225 2.6\\ 4.229 3.1\\ 4.233 2.5\\ 4.237 3.0\\ 4.241 2.6\\ 4.245 3.2\\ 4.249 2.7\\ 4.253 3.0\\
4.257 2.6\\ 4.261 3.4\\ 4.265 2.8\\ 4.269 3.1\\ 4.273 2.7\\ 4.277 3.3\\ 4.281 2.8\\ 4.285 3.1\\ 4.289 2.6\\ 4.293 3.0\\
4.297 2.7\\ 4.301 3.2\\ 4.305 2.6\\ 4.309 3.1\\ 4.313 3.5\\ 4.317 2.9\\ 4.321 3.3\\ 4.325 2.8\\ 4.329 3.4\\ 4.333 3.0\\
4.337 3.6\\ 4.341 3.1\\ 4.345 3.5\\ 4.349 2.9\\ 4.353 3.7\\ 4.357 3.2\\ 4.361 3.6\\ 4.365 4.1\\ 4.369 4.5\\ 4.373 3.8\\
4.377 3.3\\ 4.381 3.6\\ 4.385 3.1\\ 4.389 3.5\\ 4.393 3.0\\ 4.397 3.4\\ 4.401 3.7\\ 4.405 4.2\\ 4.409 4.4\\ 4.413 3.9\\
4.417 3.3\\ 4.421 3.1\\ 4.425 2.6\\ 4.429 2.5\\ 4.433 2.3\\ 4.437 2.2\\ 4.441 2.0\\ 4.445 2.3\\ 4.449 1.9\\ 4.453 2.4\\
4.457 1.8\\ 4.461 2.3\\ 4.465 1.6\\ 4.470 2.2\\ 4.475 1.5\\ 4.480 2.1\\ 4.485 1.3\\ 4.490 2.0\\ 4.495 1.2\\ 4.500 1.9\\
4.505 1.1\\ 4.510 1.8\\ 4.515 1.0\\ 4.520 1.7\\ 4.525 1.0\\ 4.530 1.8\\ 4.535 0.9\\ 4.540 1.7\\ 4.545 1.0\\ 4.550 1.6\\
4.555 0.9\\ 4.560 1.7\\ 4.565 1.0\\ 4.570 1.8\\ 4.575 1.1\\ 4.580 1.7\\ 4.585 1.0\\ 4.590 1.9\\ 4.595 1.1\\ 4.600 1.8\\
4.605 1.2\\ 4.610 2.0\\ 4.615 1.3\\ 4.620 2.1\\ 4.625 1.4\\ 4.630 2.2\\ 4.635 1.5\\ 4.640 2.3\\ 4.645 1.6\\ 4.650 2.4\\
4.655 1.7\\ 4.660 2.5\\ 4.664 4.6\\ 4.668 2.4\\ 4.672 2.8\\ 4.676 2.0\\ 4.680 2.9\\ 4.685 2.2\\ 4.690 2.8\\ 4.695 1.9\\
4.700 2.7\\ 4.705 2.0\\ 4.710 2.6\\ 4.715 1.7\\ 4.720 2.5\\ 4.725 1.6\\ 4.730 2.4\\ 4.735 1.5\\ 4.740 2.3\\ 4.745 1.4\\
4.750 2.4\\ 4.755 1.5\\ 4.760 2.3\\ 4.765 1.6\\ 4.770 2.4\\ 4.775 1.5\\ 4.780 2.5\\ 4.785 1.6\\ 4.790 2.6\\ 4.795 1.7\\
4.800 2.6\\ 4.805 1.8\\ 4.810 2.5\\ 4.815 1.6\\ 4.820 2.4\\ 4.825 1.5\\ 4.830 2.5\\ 4.835 1.6\\ 4.840 2.4\\ 4.845 1.5\\
4.850 2.3\\ 4.855 1.6\\ 4.860 2.5\\ 4.865 1.7\\ 4.870 2.4\\ 4.875 1.6\\ 4.880 2.6\\ 4.885 1.8\\ 4.890 2.5\\ 4.895 1.7\\
4.900 2.6\\ 4.905 1.8\\ 4.910 2.7\\ 4.915 1.9\\ 4.920 2.6\\ 4.925 1.8\\ 4.930 2.8\\ 4.935 2.0\\ 4.940 2.7\\ 4.945 1.9\\
4.950 2.8\\ 4.955 2.0\\ 4.960 2.9\\ 4.965 2.1\\ 4.970 2.8\\ 4.975 1.9\\ 4.980 2.7\\ 4.985 2.0\\ 4.990 2.8\\ 4.995 1.9\\
5.000 2.7\\ 5.005 1.6\\ 5.010 2.4\\ 5.015 1.2\\ 5.020 2.2\\ 5.025 1.5\\ 5.030 2.5\\ 5.035 1.8\\ 5.040 2.6\\ 5.045 1.9\\
5.050 2.7\\ 5.055 2.0\\ 5.060 2.8\\ 5.065 1.9\\ 5.070 2.6\\ 5.075 1.8\\ 5.080 2.5\\ 5.085 1.4\\ 5.090 2.3\\ 5.095 1.9\\
5.100 2.7\\ 5.105 2.2\\ 5.110 2.9\\ 5.115 2.4\\ 5.118 1.6\\ 5.121 2.2\\ 5.124 1.3\\ 5.127 2.0\\ 5.130 1.5\\ 5.133 2.3\\
5.136 1.2\\ 5.139 2.1\\ 5.142 1.7\\ 5.145 2.5\\ 5.148 0.8\\ 5.151 1.9\\ 5.154 2.4\\ 5.157 1.6\\ 5.160 2.2\\ 5.163 1.4\\
5.166 2.7\\ 5.169 2.0\\ 5.172 2.9\\ 5.175 1.9\\ 5.178 2.4\\ 5.181 1.5\\ 5.184 2.3\\ 5.187 1.2\\ 5.190 2.0\\ 5.193 1.6\\
5.196 2.5\\ 5.199 1.9\\ 5.202 2.8\\ 5.205 2.2\\ 5.208 3.0\\ 5.211 1.8\\ 5.214 1.1\\ 5.217 2.0\\ 5.220 1.4\\ 5.223 2.2\\
5.226 1.5\\ 5.229 2.5\\ 5.232 1.2\\ 5.235 2.4\\ 5.238 2.9\\ 5.241 1.8\\ 5.244 2.7\\ 5.247 1.5\\ 5.250 2.3\\ 5.253 1.3\\
5.256 2.6\\ 5.259 1.9\\ 5.262 2.4\\ 5.265 1.6\\ 5.268 2.2\\ 5.271 1.9\\
}\hdB

\pgfplotstableread[row sep=\\]{x y\\
4.000 3.9\\ 4.003 4.4\\ 4.006 3.6\\ 4.008 1.6\\ 4.011 3.9\\ 4.014 4.2\\ 4.017 4.8\\ 4.020 4.0\\ 4.023 4.5\\ 4.026 3.7\\
4.029 4.3\\ 4.032 4.6\\ 4.035 4.2\\ 4.038 4.7\\ 4.041 3.9\\ 4.044 3.2\\ 4.047 4.6\\ 4.050 5.1\\ 4.053 4.3\\ 4.056 4.9\\
4.059 3.9\\ 4.062 4.6\\ 4.065 5.3\\ 4.068 4.4\\ 4.070 5.75\\ 4.073 4.9\\ 4.076 3.7\\ 4.079 5.0\\ 4.082 6.3\\ 4.085 4.8\\
4.088 5.6\\ 4.090 1.9\\ 4.093 4.3\\ 4.096 5.4\\ 4.099 4.6\\ 4.102 5.2\\ 4.105 6.0\\ 4.108 4.9\\ 4.111 5.5\\ 4.114 3.35\\
4.117 5.0\\ 4.120 6.7\\ 4.123 5.4\\ 4.126 4.0\\ 4.129 5.1\\ 4.132 4.4\\ 4.135 5.35\\ 4.138 4.7\\ 4.141 5.8\\ 4.144 6.4\\
4.147 4.9\\ 4.150 2.95\\ 4.153 4.6\\ 4.156 5.6\\ 4.159 4.7\\ 4.162 5.3\\ 4.165 4.2\\ 4.168 6.15\\ 4.171 5.2\\ 4.174 4.3\\
4.177 5.9\\ 4.180 6.5\\ 4.183 6.7\\ 4.186 3.6\\ 4.189 4.8\\ 4.192 4.9\\ 4.195 3.8\\ 4.198 4.5\\ 4.201 3.2\\ 4.204 4.1\\
4.207 3.0\\ 4.210 3.7\\ 4.213 2.6\\ 4.216 3.4\\ 4.219 2.2\\ 4.222 3.0\\ 4.225 2.4\\ 4.228 3.3\\ 4.231 2.6\\ 4.234 3.6\\
4.237 2.5\\ 4.240 3.2\\ 4.243 2.7\\ 4.246 3.5\\ 4.249 2.3\\ 4.252 3.1\\ 4.255 2.6\\ 4.258 3.3\\ 4.261 4.4\\ 4.264 3.1\\
4.267 2.5\\ 4.270 3.8\\ 4.273 2.9\\ 4.276 4.2\\ 4.279 3.0\\ 4.282 2.2\\ 4.285 3.4\\ 4.288 2.6\\ 4.291 3.6\\ 4.294 2.0\\
4.297 3.1\\ 4.300 2.7\\ 4.303 3.9\\ 4.306 2.4\\ 4.309 3.2\\ 4.312 4.1\\ 4.315 2.8\\ 4.318 3.5\\ 4.321 2.4\\ 4.324 3.7\\
4.327 2.9\\ 4.330 4.0\\ 4.333 2.6\\ 4.336 3.3\\ 4.339 4.3\\ 4.342 2.7\\ 4.345 3.8\\ 4.348 2.5\\ 4.351 3.4\\ 4.354 4.6\\
4.357 2.9\\ 4.360 1.9\\ 4.363 3.6\\ 4.366 4.8\\ 4.369 5.4\\ 4.372 3.5\\ 4.375 4.4\\ 4.378 2.4\\ 4.381 3.6\\ 4.384 4.1\\
4.387 2.8\\ 4.390 3.9\\ 4.393 2.2\\ 4.396 3.5\\ 4.399 4.3\\ 4.402 3.0\\ 4.405 4.6\\ 4.408 5.4\\ 4.411 4.2\\ 4.414 5.0\\
4.417 3.4\\ 4.420 4.1\\ 4.423 2.6\\ 4.426 3.5\\ 4.429 1.8\\ 4.432 3.2\\ 4.435 2.1\\ 4.438 3.0\\ 4.441 1.6\\ 4.444 2.8\\
4.447 1.7\\ 4.450 2.9\\ 4.453 1.2\\ 4.456 3.1\\ 4.459 1.0\\ 4.462 2.7\\ 4.465 1.3\\ 4.468 3.2\\ 4.471 0.9\\ 4.474 2.6\\
4.477 1.1\\ 4.480 3.0\\ 4.483 0.8\\ 4.486 2.8\\ 4.489 1.0\\ 4.492 3.3\\ 4.495 0.7\\ 4.498 2.5\\ 4.501 0.9\\ 4.504 3.0\\
4.507 0.6\\ 4.510 2.7\\ 4.513 0.8\\ 4.516 2.9\\ 4.519 0.6\\ 4.522 2.4\\ 4.525 0.7\\ 4.528 2.8\\ 4.531 0.5\\ 4.534 2.6\\
4.537 0.8\\ 4.540 2.9\\ 4.543 0.5\\ 4.546 2.5\\ 4.549 0.6\\ 4.552 2.8\\ 4.555 0.4\\ 4.558 2.4\\ 4.561 0.7\\ 4.564 2.7\\
4.567 0.5\\ 4.570 2.3\\ 4.573 0.6\\ 4.576 2.8\\ 4.579 0.5\\ 4.582 2.5\\ 4.585 0.7\\ 4.588 2.9\\ 4.591 0.5\\ 4.594 2.4\\
4.597 0.4\\ 4.600 2.8\\ 4.603 0.6\\ 4.606 2.6\\ 4.609 0.5\\ 4.612 3.0\\ 4.615 0.7\\ 4.618 2.5\\ 4.621 0.8\\ 4.624 3.1\\
4.627 0.7\\ 4.630 2.8\\ 4.633 0.9\\ 4.636 3.3\\ 4.639 1.0\\ 4.642 2.7\\ 4.645 0.9\\ 4.648 3.0\\ 4.651 1.1\\ 4.654 2.6\\
4.657 1.0\\ 4.660 2.9\\ 4.663 4.5\\ 4.665 3.0\\ 4.668 1.4\\ 4.671 3.0\\ 4.674 1.2\\ 4.677 3.6\\ 4.681 1.5\\ 4.684 3.9\\
4.688 1.3\\ 4.691 3.4\\ 4.695 1.6\\ 4.698 3.7\\ 4.702 1.2\\ 4.705 3.3\\ 4.709 1.0\\ 4.712 3.1\\ 4.716 0.9\\ 4.719 2.8\\
4.723 1.1\\ 4.726 3.2\\ 4.730 0.7\\ 4.733 2.6\\ 4.737 0.9\\ 4.740 3.0\\ 4.744 0.6\\ 4.747 2.7\\ 4.751 0.9\\ 4.754 3.1\\
4.758 0.7\\ 4.761 2.5\\ 4.765 1.0\\ 4.768 2.9\\ 4.772 0.6\\ 4.775 2.6\\ 4.779 0.8\\ 4.782 3.0\\ 4.786 0.5\\ 4.789 2.7\\
4.793 0.9\\ 4.796 3.3\\ 4.800 0.7\\ 4.803 2.8\\ 4.807 1.0\\ 4.810 3.1\\ 4.814 0.6\\ 4.817 2.6\\ 4.821 0.9\\ 4.824 3.2\\
4.828 0.7\\ 4.831 2.9\\ 4.835 0.5\\ 4.838 2.5\\ 4.842 0.8\\ 4.845 3.0\\ 4.849 0.4\\ 4.852 2.7\\ 4.856 0.9\\ 4.859 3.1\\
4.863 0.6\\ 4.866 2.5\\ 4.870 1.0\\ 4.873 2.9\\ 4.877 0.6\\ 4.880 3.3\\ 4.884 0.8\\ 4.887 2.6\\ 4.891 0.5\\ 4.894 2.9\\
4.898 1.0\\ 4.901 2.7\\ 4.905 0.7\\ 4.908 3.0\\ 4.912 1.1\\ 4.915 2.5\\ 4.919 0.8\\ 4.922 2.8\\ 4.926 1.2\\ 4.929 3.1\\
4.933 0.9\\ 4.936 2.6\\ 4.940 1.0\\ 4.943 2.9\\ 4.947 0.7\\ 4.950 2.7\\ 4.954 1.1\\ 4.957 3.0\\ 4.961 0.8\\ 4.964 2.6\\
4.968 1.0\\ 4.971 3.3\\ 4.975 0.8\\ 4.978 2.8\\ 4.982 1.2\\ 4.985 3.0\\ 4.989 0.9\\ 4.992 2.6\\ 4.996 1.1\\ 4.999 3.2\\
5.003 0.9\\ 5.006 3.4\\ 5.010 1.0\\ 5.013 2.7\\ 5.017 0.3\\ 5.020 2.5\\ 5.024 0.8\\ 5.027 2.8\\ 5.031 1.2\\ 5.034 3.0\\
5.038 1.0\\ 5.041 2.7\\ 5.045 1.3\\ 5.048 3.1\\ 5.052 1.0\\ 5.055 2.6\\ 5.059 1.2\\ 5.062 2.9\\ 5.066 0.9\\ 5.069 2.7\\
5.073 1.1\\ 5.076 3.0\\ 5.080 0.9\\ 5.083 2.4\\ 5.087 0.5\\ 5.090 2.6\\ 5.094 1.0\\ 5.097 3.1\\ 5.101 1.2\\ 5.104 3.3\\
5.108 1.5\\ 5.111 3.0\\ 5.115 1.8\\
}\tmB

\newcommand{\tfill}[3]{%
  \addplot[draw=none, name path=#3, forget plot] table {#1};
  \addplot[fill=#2, fill opacity=0.2, draw=none, forget plot] fill between[of=#3 and top];
}
\newcommand{\tline}[2]{%
  \addplot[#2, line width=1.6pt, smooth, tension=0.35, forget plot] table {#1};
}

\pgfplotsset{
  spec/.style={
    scale only axis, width=630.5pt, height=113pt,
    clip mode=individual,
    axis line style={line width=1.5pt},
    tick style={black, line width=1pt},
    major tick length=6pt, minor tick length=3pt,
    tick align=inside,
    ytick pos=left,
    xtick pos=both,
    ytick={0,5}, minor ytick={1,2,3,4,6,7,8},
    tick label style={font=\fontsize{11.5}{13}\selectfont},
    label style={font=\fontsize{11.5}{13}\selectfont},
    /pgf/number format/assume math mode=true,
    xticklabel style={/pgf/number format/.cd, fixed, fixed zerofill, precision=1},
    yticklabel style={/pgf/number format/.cd, fixed, precision=0},
  },
  hd/.style={cHD, line width=0.7pt, mark=*, mark size=0.55pt, forget plot},
  tm/.style={cTM, line width=0.7pt, mark=*, mark size=0.55pt, forget plot},
}

\begin{document}
\begin{tikzpicture}

% ================= panel a =================
\begin{axis}[spec, anchor=north west, at={(0pt,0pt)},
  xmin=2.85, xmax=4.0, ymin=-0.9, ymax=8.55,
  xtick={3.0,3.2,3.4,3.6,3.8,4.0},
  minor xtick={2.9,2.95,3.05,3.1,3.15,3.25,3.3,3.35,3.45,3.5,3.55,3.65,3.7,3.75,3.85,3.9,3.95},
  legend columns=8,
  legend style={draw=none, fill=none, at={(0.507,1)}, anchor=center, yshift=17pt,
    font=\fontsize{11.5}{13}\selectfont,
    /tikz/every even column/.append style={column sep=29pt}},
  legend cell align=left,
]
\addlegendimage{cH2O, line width=1.8pt}\addlegendentry{H\textsubscript{2}\textsuperscript{16}O}
\addlegendimage{cCH4, line width=1.8pt}\addlegendentry{\textsuperscript{12}CH\textsubscript{4}}
\addlegendimage{cCO, line width=1.8pt}\addlegendentry{\textsuperscript{12}CO}
\addlegendimage{cNH3, line width=1.8pt}\addlegendentry{\textsuperscript{14}NH\textsubscript{3}}
\addlegendimage{cCO2, line width=1.8pt}\addlegendentry{\textsuperscript{12}CO\textsubscript{2}}
\addlegendimage{cH2S, line width=1.8pt}\addlegendentry{H\textsubscript{2}S}
\addlegendimage{cSiO, line width=1.8pt}\addlegendentry{SiO}
\addlegendimage{cPH3, line width=1.8pt}\addlegendentry{PH\textsubscript{3}}

\addplot[draw=none, name path=top, forget plot] coordinates {(2.870,20) (4.000,20)};
\tfill{\hOa}{cH2O}{ha}
\tfill{\cHa}{cCH4}{ca}
\tfill{\nHa}{cNH3}{na}
\tfill{\sHa}{cH2S}{sa}
\tfill{\pHa}{cPH3}{pa}
\tline{\hOa}{cH2O}
\tline{\cHa}{cCH4}
\tline{\nHa}{cNH3}
\tline{\sHa}{cH2S}
\tline{\pHa}{cPH3}

\addplot[hd] table {\hdA};
\addplot[tm] table {\tmA};

\node[font=\bfseries\fontsize{12}{14}\selectfont, text=cHD] at (axis cs:3.608,4.58) {HD 19467 B};
\node[font=\bfseries\fontsize{12}{14}\selectfont, text=cTM] at (axis cs:3.77,1.13) {2M 0415};
\node[font=\bfseries\fontsize{7}{8}\selectfont, anchor=east] at (rel axis cs:0.979,0.106) {NRS1};
\node[font=\bfseries\fontsize{10}{12}\selectfont, xshift=-14.5pt, yshift=7pt] at (rel axis cs:0,1) {a};
\end{axis}

% ================= panel b =================
\begin{axis}[spec, anchor=north west, at={(0pt,-137.5pt)},
  xmin=4.0, xmax=5.3, ymin=-0.92, ymax=8.12,
  xtick={4.0,4.2,4.4,4.6,4.8,5.0,5.2},
  minor xtick={4.05,4.1,4.15,4.25,4.3,4.35,4.45,4.5,4.55,4.65,4.7,4.75,4.85,4.9,4.95,5.05,5.1,5.15,5.25},
  xlabel={Wavelength [µm]},
  xlabel style={at={(axis description cs:0.5,0)}, anchor=center, yshift=-27.5pt},
]
\addplot[draw=none, name path=top, forget plot] coordinates {(4.003,20) (5.268,20)};
\tfill{\hOb}{cH2O}{hb}
\tfill{\cHb}{cCH4}{cb}
\tfill{\cOb}{cCO}{ob}
\tfill{\nHb}{cNH3}{nb}
\tfill{\cTb}{cCO2}{tb}
\tfill{\sHb}{cH2S}{sb}
\tfill{\sOb}{cSiO}{sib}
\tfill{\pHb}{cPH3}{pb}
\tline{\hOb}{cH2O}
\tline{\cHb}{cCH4}
\tline{\cOb}{cCO}
\tline{\nHb}{cNH3}
\tline{\cTb}{cCO2}
\tline{\sHb}{cH2S}
\tline{\sOb}{cSiO}
\tline{\pHb}{cPH3}

\addplot[hd] table {\hdB};
\addplot[tm] table {\tmB};

\node[font=\bfseries\fontsize{7}{8}\selectfont, anchor=east] at (rel axis cs:0.979,0.106) {NRS2};
\node[font=\bfseries\fontsize{10}{12}\selectfont, xshift=-14.5pt, yshift=6.5pt] at (rel axis cs:0,1) {b};
\end{axis}

\node[rotate=90, font=\fontsize{11.5}{13}\selectfont] at (-28.5pt,-119.5pt) {Flux [10\textsuperscript{−16} W m\textsuperscript{−2} µm\textsuperscript{−1}]};

\pgfresetboundingbox
\path (-42pt,-286pt) rectangle (648.5pt,28pt);
\end{tikzpicture}
\end{document}
